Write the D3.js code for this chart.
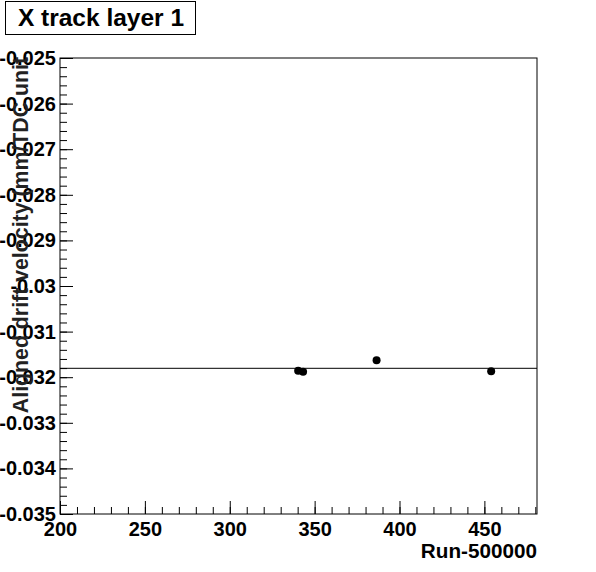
<!DOCTYPE html>
<html>
<head>
<meta charset="utf-8">
<script src="https://cdn.jsdelivr.net/npm/d3@7"></script>
<style>
  body { margin: 0; background: #fff; }
  svg { display: block; font-family: "Liberation Sans", Arial, sans-serif; font-weight: bold; }
</style>
</head>
<body>
<svg width="596" height="572"></svg>
<script>
// data
const runs = [340.3, 343.2, 386.5, 454.0];
const velocity = [-0.03186, -0.03188, -0.03163, -0.03187];
const fitValue = -0.031805;
const xTicks = [200, 250, 300, 350, 400, 450];
const yTicks = [-0.035, -0.034, -0.033, -0.032, -0.031, -0.030, -0.029, -0.028, -0.027, -0.026, -0.025];

const svg = d3.select('svg');

const plotLeft = 60, plotRight = 537, plotTop = 58, plotBottom = 514;

const x = d3.scaleLinear().domain([200, 481]).range([plotLeft, plotRight]);
const y = d3.scaleLinear().domain([-0.035, -0.025]).range([plotBottom, plotTop]);

const xMinor = d3.range(200, 481, 10);
const yMinor = d3.range(0, 51).map(i => -0.035 + i * 0.0002);

const fmt = v => String(parseFloat(v.toFixed(3)));

// minor ticks
svg.append('g')
  .attr('transform', `translate(${plotLeft},0)`)
  .call(d3.axisLeft(y).tickValues(yMinor).tickSize(-7).tickFormat(''))
  .call(g => g.select('.domain').remove());

svg.append('g')
  .attr('transform', `translate(0,${plotBottom})`)
  .call(d3.axisBottom(x).tickValues(xMinor).tickSize(-7).tickFormat(''))
  .call(g => g.select('.domain').remove());

// major ticks + labels
svg.append('g')
  .attr('transform', `translate(${plotLeft},0)`)
  .call(d3.axisLeft(y).tickValues(yTicks).tickSize(-13).tickPadding(4).tickFormat(fmt))
  .call(g => g.select('.domain').remove())
  .selectAll('text')
    .attr('font-size', 20)
    .attr('font-family', '"Liberation Sans", Arial, sans-serif')
    .attr('font-weight', 'bold')
    .attr('fill', '#000');

svg.append('g')
  .attr('transform', `translate(0,${plotBottom})`)
  .call(d3.axisBottom(x).tickValues(xTicks).tickSize(-13).tickPadding(8).tickFormat(d3.format('d')))
  .call(g => g.select('.domain').remove())
  .selectAll('text')
    .attr('font-size', 20)
    .attr('font-family', '"Liberation Sans", Arial, sans-serif')
    .attr('font-weight', 'bold')
    .attr('fill', '#000');

svg.selectAll('.tick line').attr('stroke', '#000');

// frame
svg.append('rect')
  .attr('x', plotLeft)
  .attr('y', plotTop)
  .attr('width', plotRight - plotLeft)
  .attr('height', plotBottom - plotTop)
  .attr('fill', 'none')
  .attr('stroke', '#000');

// fit line
svg.append('line')
  .attr('x1', plotLeft)
  .attr('x2', plotRight)
  .attr('y1', y(fitValue))
  .attr('y2', y(fitValue))
  .attr('stroke', '#000');

// points
svg.append('g')
  .selectAll('circle')
  .data(runs)
  .enter()
  .append('circle')
  .attr('cx', (d) => x(d))
  .attr('cy', (d, i) => y(velocity[i]))
  .attr('r', 4)
  .attr('fill', '#000');

// axis titles
svg.append('text')
  .attr('transform', 'translate(28,57) rotate(-90)')
  .attr('text-anchor', 'end')
  .attr('font-size', 21.3)
  .attr('fill', '#222')
  .text('Aligned drift velocity (mm/TDC unit');

svg.append('text')
  .attr('x', plotRight)
  .attr('y', 558)
  .attr('text-anchor', 'end')
  .attr('font-size', 20.7)
  .text('Run-500000');

// title box
svg.append('rect')
  .attr('x', 5.5)
  .attr('y', 1.5)
  .attr('width', 190)
  .attr('height', 33)
  .attr('fill', '#fff')
  .attr('stroke', '#000');

svg.append('text')
  .attr('x', 101)
  .attr('y', 26)
  .attr('text-anchor', 'middle')
  .attr('font-size', 24.5)
  .text('X track layer 1');
</script>
</body>
</html>
